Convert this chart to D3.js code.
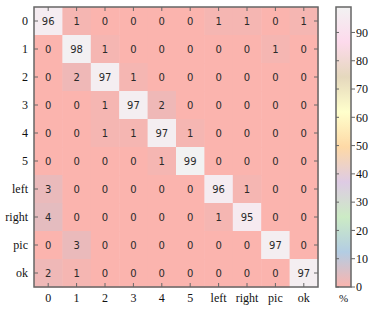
<!DOCTYPE html>
<html>
<head>
<meta charset="utf-8">
<script src="https://cdn.jsdelivr.net/npm/d3@7"></script>
<style>
body { margin: 0; background: #fff; }
</style>
</head>
<body>
<script>
// confusion matrix (%)
var labels = ["0", "1", "2", "3", "4", "5", "left", "right", "pic", "ok"];
var matrix = [
  [96, 1, 0, 0, 0, 0, 1, 1, 0, 1],
  [0, 98, 1, 0, 0, 0, 0, 0, 1, 0],
  [0, 2, 97, 1, 0, 0, 0, 0, 0, 0],
  [0, 0, 1, 97, 2, 0, 0, 0, 0, 0],
  [0, 0, 1, 1, 97, 1, 0, 0, 0, 0],
  [0, 0, 0, 0, 1, 99, 0, 0, 0, 0],
  [3, 0, 0, 0, 0, 0, 96, 1, 0, 0],
  [4, 0, 0, 0, 0, 0, 1, 95, 0, 0],
  [0, 3, 0, 0, 0, 0, 0, 0, 97, 0],
  [2, 1, 0, 0, 0, 0, 0, 0, 0, 97]
];
var cbTicks = [0, 10, 20, 30, 40, 50, 60, 70, 80, 90];
var pastel = ["#fbb4ae", "#b3cde3", "#ccebc5", "#decbe4", "#fed9a6", "#ffffcc", "#e5d8bd", "#fddaec", "#f2f2f2"];

var W = 382, H = 311;
var svg = d3.select("body").append("svg").attr("width", W).attr("height", H);

var pL = 34, pT = 7, pR = 318, pB = 287;
var vmax = 99;

var x = d3.scaleBand().domain(labels).range([pL, pR]);
var y = d3.scaleBand().domain(labels).range([pT, pB]);
var color = d3.scaleLinear()
    .domain(pastel.map(function(d, i) { return i * vmax / (pastel.length - 1); }))
    .range(pastel).clamp(true);

var cells = [];
matrix.forEach(function(row, i) {
  row.forEach(function(v, j) { cells.push({r: labels[i], c: labels[j], v: v}); });
});

svg.append("g").selectAll("rect").data(cells).enter().append("rect")
    .attr("x", function(d) { return x(d.c); })
    .attr("y", function(d) { return y(d.r); })
    .attr("width", x.bandwidth() + 0.5)
    .attr("height", y.bandwidth() + 0.5)
    .attr("fill", function(d) { return color(d.v); });

svg.append("g").selectAll("text").data(cells).enter().append("text")
    .attr("x", function(d) { return x(d.c) + x.bandwidth() / 2; })
    .attr("y", function(d) { return y(d.r) + y.bandwidth() / 2; })
    .attr("dy", "0.36em")
    .attr("text-anchor", "middle")
    .style("font-family", "DejaVu Sans, sans-serif")
    .style("font-size", "10px")
    .attr("fill", "#2a2a2a")
    .text(function(d) { return d.v; });

// frame + ticks
var frame = svg.append("g").attr("stroke", "#666").attr("fill", "none");
frame.append("rect").attr("x", pL).attr("y", pT)
    .attr("width", pR - pL).attr("height", pB - pT).attr("stroke-width", 1.5);
labels.forEach(function(l) {
  var cx = x(l) + x.bandwidth() / 2, cy = y(l) + y.bandwidth() / 2;
  frame.append("line").attr("x1", cx).attr("x2", cx).attr("y1", pB).attr("y2", pB - 4);
  frame.append("line").attr("x1", cx).attr("x2", cx).attr("y1", pT).attr("y2", pT + 4);
  frame.append("line").attr("x1", pL).attr("x2", pL + 4).attr("y1", cy).attr("y2", cy);
  frame.append("line").attr("x1", pR).attr("x2", pR - 4).attr("y1", cy).attr("y2", cy);
});

var serif = "Liberation Serif, Times New Roman, serif";
svg.append("g").selectAll("text").data(labels).enter().append("text")
    .attr("x", function(d) { return x(d) + x.bandwidth() / 2; })
    .attr("y", pB + 15)
    .attr("text-anchor", "middle")
    .style("font-family", serif).style("font-size", "12px").attr("fill", "#111")
    .text(function(d) { return d; });
svg.append("g").selectAll("text").data(labels).enter().append("text")
    .attr("x", pL - 6)
    .attr("y", function(d) { return y(d) + y.bandwidth() / 2; })
    .attr("dy", "0.35em")
    .attr("text-anchor", "end")
    .style("font-family", serif).style("font-size", "12px").attr("fill", "#111")
    .text(function(d) { return d; });

// colorbar
var cbx = 336, cbw = 15;
var cby = d3.scaleLinear().domain([0, vmax]).range([pB, pT]);
var defs = svg.append("defs");
var grad = defs.append("linearGradient").attr("id", "cb")
    .attr("x1", 0).attr("y1", 1).attr("x2", 0).attr("y2", 0);
pastel.forEach(function(c, i) {
  grad.append("stop").attr("offset", i / (pastel.length - 1)).attr("stop-color", c);
});
svg.append("rect").attr("x", cbx).attr("y", pT).attr("width", cbw).attr("height", pB - pT)
    .attr("fill", "url(#cb)").attr("stroke", "#666").attr("stroke-width", 1.5);
var cbg = svg.append("g");
cbTicks.forEach(function(t) {
  cbg.append("line").attr("x1", cbx + cbw).attr("x2", cbx + cbw + 4)
      .attr("y1", cby(t)).attr("y2", cby(t)).attr("stroke", "#666");
  cbg.append("line").attr("x1", cbx).attr("x2", cbx + 3)
      .attr("y1", cby(t)).attr("y2", cby(t)).attr("stroke", "#666");
  cbg.append("text").attr("x", cbx + cbw + 5).attr("y", cby(t)).attr("dy", "0.35em")
      .style("font-family", serif).style("font-size", "12px").attr("fill", "#111")
      .text(t);
});
svg.append("text").attr("x", cbx + cbw / 2).attr("y", pB + 15).attr("text-anchor", "middle")
    .style("font-family", serif).style("font-size", "11px").attr("fill", "#111").text("%");
</script>
</body>
</html>
